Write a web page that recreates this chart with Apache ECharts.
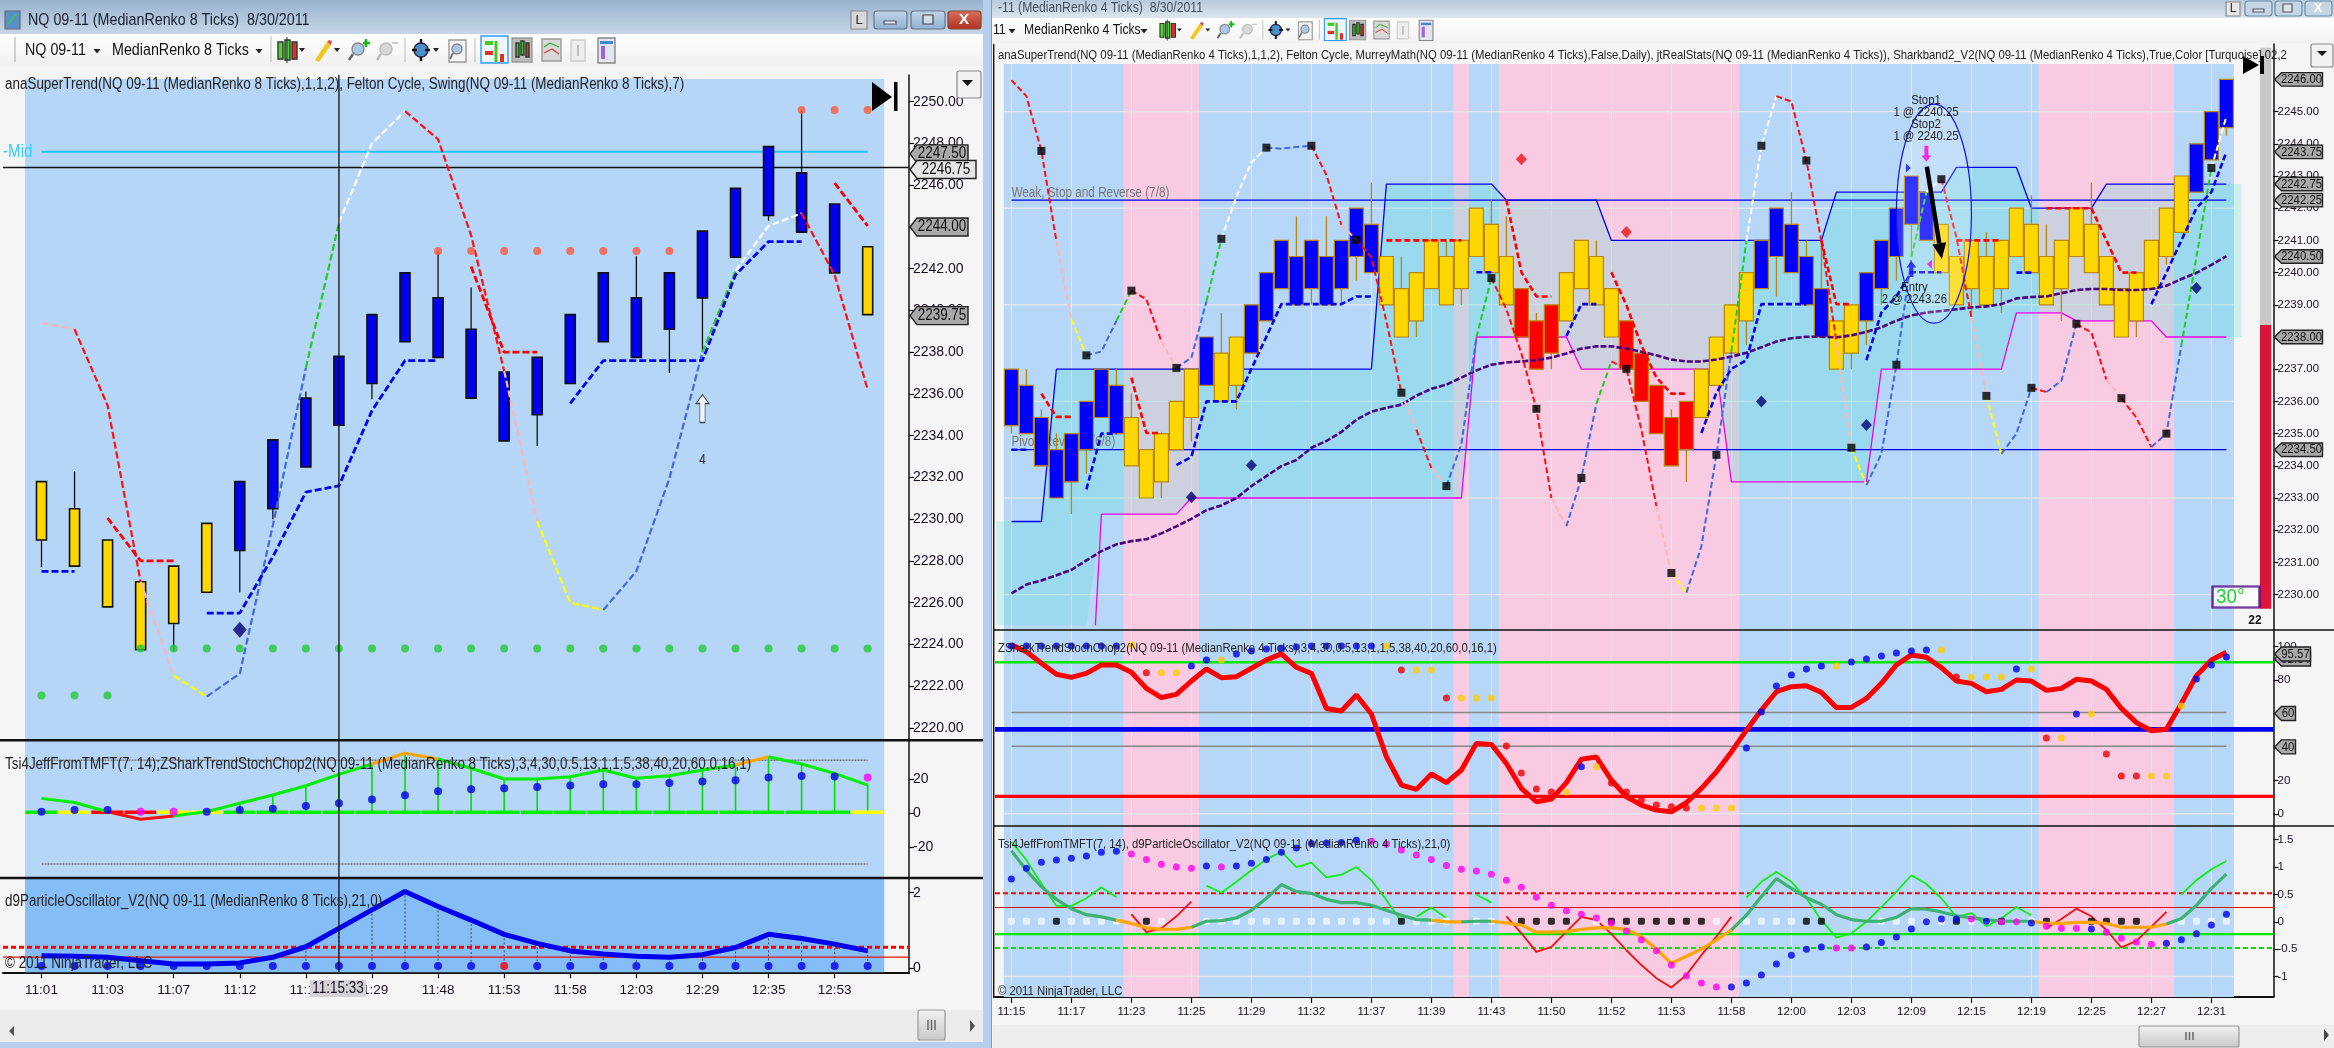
<!DOCTYPE html>
<html><head><meta charset="utf-8">
<style>html,body{margin:0;padding:0;background:#f5f5f5}#c{width:2334px;height:1048px}</style>
<script src="https://cdn.jsdelivr.net/npm/echarts@6/dist/echarts.min.js"></script>
</head><body><div id="c"></div>
<script>
// ---------- LEFT CHART DATA (MedianRenko 8 Ticks) ----------
const leftTimeLabels=['11:01','11:03','11:07','11:12','11:15','11:29','11:48','11:53','11:58','12:03','12:29','12:35','12:53'];
const leftBodyTop=[2231.8,2230.5,2229.0,2227.0,2227.75,2229.8,2231.8,2233.8,2235.8,2237.8,2239.8,2241.8,2240.6,2239.1,2237.05,2237.75,2239.8,2241.8,2240.6,2241.8,2243.8,2245.85,2247.85,2246.6,2245.1,2243.05];
const leftBodyBottom=[2229.0,2227.75,2225.8,2223.75,2225.0,2226.5,2228.5,2230.5,2232.5,2234.5,2236.5,2238.5,2237.75,2235.8,2233.75,2235.0,2236.5,2238.5,2237.75,2239.1,2240.6,2242.55,2244.55,2243.75,2241.8,2239.8];
const leftUpperWicks=[[1,2232.3],[8,2236.1],[12,2242.85],[13,2241.1],[18,2242.6],[23,2249.6]];
const leftLowerWicks=[[0,2227.7],[4,2223.7],[6,2226.5],[7,2230.0],[10,2235.75],[15,2233.5],[19,2237.0],[20,2238.0],[22,2244.3]];
const leftCandleKinds='yyyyyybbbbbbbbbbbbbbbbbbby';
const leftCycle=[2239.4,2239.1,2235.45,2227.0,2222.5,2221.5,2222.6,2229.7,2237.25,2244.2,2248.0,2249.55,2248.2,2243.6,2237.1,2229.9,2226.0,2225.65,2227.5,2231.95,2238.0,2241.9,2244.05,2244.65,2241.7,2236.2];
const leftCycleRuns=[[1,'pink'],[3,'red'],[4,'pink'],[5,'yellow'],[8,'blue'],[9,'green'],[11,'white'],[14,'red'],[15,'pink'],[17,'yellow'],[20,'blue'],[21,'green'],[23,'white'],[25,'red']];
const leftTrailBlue=[[0,[2227.5,2227.5]],[5,[2225.5,2225.5,2228.2,2231.3,2231.6,2235.2,2237.6,2237.6]],[16,[2235.55,2237.6,2237.6,2237.6,2237.6,2241.7,2243.3,2243.3]]];
const leftTrailRed=[[2,[2230.05,2228.0,2228.0]],[13,[2242.1,2238.0,2238.0]],[24,[2246.1,2244.05]]];
const leftSwingHighIdx=[12,13,14,15,16,17,18,19,23,24,25];
const leftSwingHigh=[2242.85,2242.85,2242.85,2242.85,2242.85,2242.85,2242.85,2242.85,2249.6,2249.6,2249.6];
const leftSwingLow=[2221.55,2221.55,2221.55,2223.8,2223.8,2223.8,2223.8,2223.8,2223.8,2223.8,2223.8,2223.8,2223.8,2223.8,2223.8,2223.8,2223.8,2223.8,2223.8,2223.8,2223.8,2223.8,2223.8,2223.8,2223.8,2223.8];
const leftMid=2247.6, leftLast=2246.85;
const leftTags=[[2247.5,'2247.50'],[2244,'2244.00'],[2239.75,'2239.75']];
const leftTsi=[8.8,6.4,0.96,-3.5,-1.6,1,5.9,10.8,16.2,22.9,29,35.3,31.9,26.5,20.2,20.2,21.5,25.5,20.6,22.1,25.5,28.4,33.3,29,23.5,16.6];
const leftTsiRuns=[[2,'lime'],[4,'red'],[10,'lime'],[12,'orange'],[21,'lime'],[22,'orange'],[25,'lime']];
const leftShark=[1,2,2,1,1,1,2,2.7,4.3,5.9,8.2,10.6,13,14.2,14.8,15.5,16.3,17.1,17.1,17.9,18.7,19.5,21.1,22,21.7,21.1];
const leftSharkKinds='bbbmmbbbbbbbbbbbbbbbbbbbbm';
const leftZeroKinds='gyrryygggggggggggggggggggy';
const leftParticle=[0.32,0.31,0.28,0.19,0.1,0.1,0.13,0.28,0.56,1.05,1.54,2.03,1.63,1.27,0.89,0.65,0.45,0.37,0.31,0.28,0.35,0.54,0.89,0.78,0.63,0.45];
const leftParticleDots='bbbbbbbbbbbbbbrbbbbbbbbbbb';
// ---------- RIGHT CHART DATA (MedianRenko 4 Ticks) ----------
const rightTimeLabels=['11:15','11:17','11:23','11:25','11:29','11:32','11:37','11:39','11:43','11:50','11:52','11:53','11:58','12:00','12:03','12:09','12:15','12:19','12:25','12:27','12:31'];
const rightBodyTop=[2237,2236.5,2235.5,2234.5,2235,2236,2237,2236.5,2235.5,2234.5,2235,2236,2237,2238,2237.5,2238,2239,2240,2241,2240.5,2241,2240.5,2241,2242,2241.5,2240.5,2239.5,2240,2241,2240.5,2241,2242,2241.5,2240.5,2239.5,2238.5,2239,2240,2241,2240.5,2239.5,2238.5,2237.5,2236.5,2235.5,2236,2237,2238,2239,2240,2241,2242,2241.5,2240.5,2239.5,2238.5,2239,2240,2241,2242,2243,2242.5,2241.5,2240.5,2241,2240.5,2241,2242,2241.5,2240.5,2241,2242,2241.5,2240.5,2239.5,2240,2241,2242,2243,2244,2245,2246];
const rightBodyBottom=[2235.25,2235,2234,2233,2233.5,2234.5,2235.5,2235,2234,2233,2233.5,2234.5,2235.5,2236.5,2236,2236.5,2237.5,2238.5,2239.5,2239,2239.5,2239,2239.5,2240.5,2240,2239,2238,2238.5,2239.5,2239,2239.5,2240.5,2240,2239,2238,2237,2237.5,2238.5,2239.5,2239,2238,2237,2236,2235,2234,2234.5,2235.5,2236.5,2237.5,2238.5,2239.5,2240.5,2240,2239,2238,2237,2237.5,2238.5,2239.5,2240.5,2241.5,2241,2240,2239,2239.5,2239,2239.5,2240.5,2240,2239,2239.5,2240.5,2240,2239,2238,2238.5,2239.5,2240.5,2241.25,2242.5,2243.5,2244.5];
const rightUpperWicks=[[1,2237],[2,2235.75],[3,2235],[7,2237],[8,2236.25],[14,2238.75],[19,2241.75],[21,2241.75],[24,2242.8],[26,2240.5],[29,2241],[32,2242.25],[33,2241.75],[35,2238.75],[39,2241],[44,2235.75],[52,2242.5],[53,2241],[54,2241],[65,2241.25],[68,2242.4],[69,2241.5],[72,2242.8]];
const rightLowerWicks=[[0,2235],[4,2232.5],[5,2233.75],[10,2233],[12,2234.75],[15,2235.75],[20,2239],[22,2239],[23,2239.75],[27,2238],[30,2239],[36,2237],[45,2233.5],[49,2237.75],[51,2239.25],[56,2237],[57,2237.75],[58,2239],[59,2239.75],[60,2240.5],[64,2238.75],[66,2238.75],[70,2238.5],[75,2238],[77,2240.25],[81,2244.25]];
const rightCandleKinds='bbbbbbbbyyyyybyybbbbbbbbbyyyyyyyyyrrryyyyrrrrryyyybbbbbyybbbbbyyyyyyyyyyyyyyyyybbb';
const rightCycle=[2245.98,2245.48,2243.78,2240.98,2238.55,2237.43,2237.55,2238.5,2239.44,2239.17,2237.86,2237.04,2237.36,2239.1,2241.05,2242.36,2243.42,2243.88,2243.85,2243.9,2243.94,2243.04,2241.48,2241.02,2240.48,2238.49,2236.27,2235.12,2233.93,2233.37,2234.68,2237.99,2239.83,2238.86,2237.49,2235.77,2233.0,2232.12,2233.62,2235.93,2237.24,2237.01,2235.12,2232.75,2230.67,2230.06,2231.5,2234.34,2237.55,2240.98,2243.94,2245.48,2245.31,2243.48,2240.98,2237.86,2234.56,2233.4,2234.37,2237.14,2240.48,2242.5,2242.9,2241.1,2238.61,2236.17,2234.37,2235.0,2236.42,2236.29,2236.64,2238.41,2238.14,2236.68,2236.1,2235.49,2234.58,2235.0,2237.74,2240.48,2243.25,2244.85];
const rightCycleRuns=[[3,'red'],[4,'pink'],[5,'yellow'],[7,'blue'],[8,'green'],[10,'red'],[11,'pink'],[13,'blue'],[14,'green'],[17,'white'],[20,'blue'],[22,'red'],[23,'pink'],[26,'red'],[27,'pink'],[28,'red'],[29,'pink'],[31,'blue'],[32,'green'],[36,'red'],[37,'pink'],[39,'blue'],[40,'green'],[43,'red'],[44,'pink'],[45,'yellow'],[48,'blue'],[49,'green'],[51,'white'],[55,'red'],[56,'pink'],[57,'yellow'],[60,'blue'],[61,'green'],[62,'white'],[64,'red'],[65,'pink'],[66,'yellow'],[68,'blue'],[69,'red'],[71,'blue'],[73,'red'],[74,'pink'],[76,'red'],[78,'blue'],[80,'green'],[81,'white']];
const rightSquareIdx=[2,5,8,11,14,17,20,23,26,29,32,35,38,41,44,47,50,53,56,59,62,65,68,71,74,77,80];
const rightTrailBlue=[[0,[2234.5,2234.5]],[5,[2233.27,2235,2235]],[11,[2234.02,2234.28,2236,2236,2236,2237.01,2238.01,2239.02,2239.02,2239.02,2239.02,2239.02,2239.26,2239.26]],[31,[2240.01,2240.01]],[37,[2238.03,2239.02,2239.02]],[46,[2235.02,2236.27,2237.01,2237.28,2239.02,2239.02,2239.02,2239.02]],[57,[2237.28,2238.76,2239.26,2240.01,2240.01,2240.01]],[67,[2240,2240]],[76,[2239.02,2240,2241,2242,2242.5,2243.75]]];
const rightTrailRed=[[2,[2236.24,2235.52,2235.52]],[8,[2236.74,2235.02,2235.02]],[25,[2241,2241,2241,2241,2241,2241]],[33,[2242.27,2240.01,2239.26,2239.26]],[40,[2240.01,2238.99,2237.74,2236.74,2236.24,2236.24]],[54,[2241,2239.02,2239.02]],[63,[2241,2241,2241,2241]],[69,[2242,2242,2242,2242,2241,2240,2240]]];
const rightAverage=[2230.04,2230.31,2230.44,2230.6,2230.77,2231.06,2231.35,2231.56,2231.66,2231.72,2231.9,2232.12,2232.35,2232.62,2232.77,2233,2233.37,2233.68,2233.99,2234.18,2234.56,2234.77,2235.05,2235.43,2235.68,2235.8,2235.9,2236.18,2236.39,2236.52,2236.74,2236.96,2237.14,2237.21,2237.24,2237.28,2237.36,2237.49,2237.64,2237.71,2237.71,2237.64,2237.54,2237.43,2237.3,2237.24,2237.24,2237.3,2237.39,2237.51,2237.68,2237.86,2237.96,2238.01,2238.01,2237.99,2238.05,2238.16,2238.3,2238.51,2238.67,2238.76,2238.81,2238.86,2238.92,2238.95,2239.02,2239.2,2239.24,2239.26,2239.36,2239.46,2239.49,2239.49,2239.46,2239.46,2239.49,2239.59,2239.8,2239.99,2240.24,2240.51];
const rightSharkUpper=[2232.27,2232.27,2232.27,2237,2237,2237,2237,2237,2237,2237,2237,2237,2237,2237,2237,2237,2237,2237,2237,2237,2237,2237,2237,2237,2237,2242.75,2242.75,2242.75,2242.75,2242.75,2242.75,2242.75,2242.75,2242.25,2242.25,2242.25,2242.25,2242.25,2242.25,2242.25,2241,2241,2241,2241,2241,2241,2241,2241,2241,2241,2241,2241,2241,2241,2241,2242.5,2242.5,2242.5,2242.5,2242.5,2242.5,2242.5,2242.5,2243.27,2243.27,2243.27,2243.27,2243.27,2242,2242,2242,2242,2242,2242.75,2242.75,2242.75,2242.75,2242.75,2242.75,2242.75,2242.75,2242.75];
const rightSharkLower=[null,null,null,null,null,null,2232.5,2232.5,2232.5,2232.5,2232.5,2232.5,2233,2233,2233,2233,2233,2233,2233,2233,2233,2233,2233,2233,2233,2233,2233,2233,2233,2233,2233,2238,2238,2238,2238,2238,2238,2238,2237,2237,2237,2237,2237,2237,2237,2237,2237,2237,2233.5,2233.5,2233.5,2233.5,2233.5,2233.5,2233.5,2233.5,2233.5,2233.5,2237,2237,2237,2237,2237,2237,2237,2237,2237,2238.75,2238.75,2238.75,2238.75,2238.5,2238.5,2238.5,2238.5,2238.5,2238.5,2238,2238,2238,2238,2238];
const rightMurrey=[2242.25,2234.5];
const rightNavyDiamonds=[[12,2233.02],[16,2234.02],[50,2236],[57,2235.27],[79,2239.52]];
const rightRedDiamonds=[[34,2243.52],[41,2241.26]];
const rightTags=[[2246,'2246.00'],[2243.75,'2243.75'],[2242.75,'2242.75'],[2242.25,'2242.25'],[2240.5,'2240.50'],[2238,'2238.00'],[2234.5,'2234.50']];
const rightStoch=[101,96.9,90,83.4,81.6,84,89,89,84.6,75,69.5,71.4,79.4,86.6,81.4,82,87,92,95.6,87.6,84,63,61.5,71,59.7,34.1,17.2,14.6,23.8,18.6,26.2,42.1,41.5,30.1,15.2,7.2,8.8,18.6,32.7,33.9,20.2,10.2,5.2,2.2,1.2,6.6,15.2,25.1,37,50,62,73,76,76.6,72.6,63.6,63.6,69,78,89,95,93.6,87.4,79.4,78,73,74.4,80,79.4,73.8,75,80.4,79.4,74.4,63,54.5,49.7,50.5,66,82.6,92,96.6];
const rightStochDots=[100.4,100.4,100.4,100.4,100.4,100.4,100.4,100.4,101,84.4,84.4,84.4,88.4,92,92,95.6,97.4,98.6,99,99.8,100.4,100.4,100.4,100.4,100.4,100.4,86,86,86,69.3,69.3,69.3,69.3,40.5,24.4,14.8,13,13,28.2,28.2,18.4,13,8.2,5.2,4.2,3.4,3.4,3.4,3.4,39.3,60.9,76.4,83,86.6,88.4,88.4,90.8,92.6,94.4,96.2,97.4,98,98,81.8,81.8,81.8,81.8,86.6,86.6,45.3,45.3,59.7,59.7,35.8,22.6,22.6,22.6,22.6,64.5,80.6,89,93.8];
const rightStochKinds='bbbbbbbbyryybbybbbbbbbbbbyryyryyyrrrrybyrrrrrryyybbbbbbybbbbbbyryyybyrybyrrryyybbbb';
const rightOscThick=[1.3,0.94,0.64,0.41,0.24,0.13,0.09,0.03,-0.03,-0.11,-0.14,-0.14,-0.1,0.01,0.02,0.07,0.21,0.43,0.68,0.55,0.52,0.41,0.35,0.35,0.3,0.21,0.12,0.04,0.03,0,0,0.01,0.01,-0.02,-0.06,-0.19,-0.19,-0.18,-0.14,-0.11,-0.11,-0.14,-0.27,-0.5,-0.76,-0.63,-0.5,-0.33,-0.15,0.12,0.46,0.79,0.61,0.44,0.32,0.13,0.04,0.01,0.01,0.08,0.24,0.23,0.18,0.11,0.07,0.04,0.01,0.01,0.01,-0.03,-0.03,-0.01,-0.01,-0.03,-0.1,-0.1,-0.1,-0.04,0.06,0.3,0.61,0.87];
const rightOscThickRuns=[[7,'sea'],[12,'orange'],[28,'sea'],[30,'orange'],[32,'sea'],[48,'orange'],[68,'sea'],[77,'orange'],[81,'sea']];
const rightOscThinGreen=[[0,[1.46,1.13,0.7,0.29,0.29,0.43,0.63,0.45]],[13,[0.66,0.53,0.73,0.94,1.14,1.28,1.0,1.08,0.81,0.86,1.0,0.76,0.4,0]],[27,[0.09,0.26,0.07]],[31,[0.5,0.35]],[49,[0.44,0.73,0.91,0.73,0.43,0.03,-0.29,-0.21,0,0.27,0.55,0.85,0.69,0.43,0.09,0.16,-0.08,0.06,0.27,0.12]],[78,[0.5,0.76,0.96,1.11]]];
const rightOscThinRed=[[8,[0.14,-0.19,-0.12,0.1,0.37]],[33,[0.1,-0.21,-0.55,-0.46,-0.18,0.09,0.03,-0.22,-0.52,-0.79,-1.03,-1.2,-0.97,-0.61,-0.27,0.09]],[69,[-0.12,0.05,0.24,0.1,-0.15,-0.47,-0.35,-0.09,0.18]]];
const rightOscDots=[0.78,0.98,1.09,1.13,1.16,1.2,1.27,1.29,1.24,1.14,1.05,1.0,0.98,1.02,1.0,1.02,1.07,1.14,1.27,1.35,1.43,1.44,1.45,1.49,1.47,1.42,1.31,1.22,1.14,1.03,0.96,0.93,0.87,0.76,0.63,0.45,0.3,0.2,0.14,0.07,-0.02,-0.17,-0.33,-0.53,-0.79,-0.99,-1.12,-1.19,-1.19,-1.12,-0.97,-0.77,-0.61,-0.5,-0.46,-0.48,-0.48,-0.46,-0.38,-0.28,-0.13,0,0.05,0.05,0.05,0.01,0,0,-0.02,-0.08,-0.12,-0.12,-0.13,-0.19,-0.3,-0.37,-0.41,-0.39,-0.33,-0.22,-0.06,0.14];
const rightOscDotKinds='bbbbbbbbmmmmmbmbbbbbbbbbmmmmmmmmmmmmmmmmmmmmmmmmbbbbbbbmmbbbbbbbmbmmbmmmbmmmmbbbbb'.slice(0,82);
const rightZeroKinds='wwwkwwww.kw..wwwwwwwwwwwwwkwww.ww.kkkk.wkkkkkkkw.wwwwkk...wwwwwkwwkwwk..kkkk..wwww'.slice(0,82);
const rightZeroLevel=0.01;
const stochTags=[[92.6,'92.64'],[95.57,'95.57'],[60,'60'],[40,'40']];
const FONT='"Liberation Sans",sans-serif';
const NARROW=0.84;
// ---------- HELPERS ----------
const L0=-1.165,L1=26.25,R0=-1.093,R1=84.14;
const COL={red:'#ff1010',pink:'#ffb6b6',yellow:'#ffff00',blue:'#4169e1',green:'#22cc22',white:'#ffffff',lime:'#00ee00',orange:'#ffa500',sea:'#3cb371'};
const idx=(n)=>Array.from({length:n},(_,i)=>i);
const series=[];
function line(g,pts,color,width,type,z){series.push({type:'line',xAxisIndex:g,yAxisIndex:g,data:pts,showSymbol:false,symbol:'none',silent:true,animation:false,z:z||5,connectNulls:false,lineStyle:{color,width,type:type||'solid'}});}
function hl(g,v,a,b,color,width,type,z){line(g,[[a,v],[b,v]],color,width,type,z);}
function vl(g,x,a,b,color,width,type,z){line(g,[[x,a],[x,b]],color,width,type,z);}
function runs(g,vals,list,width,dash,z){let s=0;for(const [e,c] of list){line(g,vals.slice(s,e+1).map((v,i)=>[s+i,v]),COL[c],width,dash,z);s=e;}}
function gapped(g,segs,color,width,dash,z){const p=[];for(const [st,vs] of segs){vs.forEach((v,i)=>p.push([st+i,v]));p.push([st+vs.length,'-']);}line(g,p,color,width,dash,z);}
function scatter(g,items,symbol,size,z,extra){series.push(Object.assign({type:'scatter',xAxisIndex:g,yAxisIndex:g,data:items,symbol,symbolSize:size,silent:true,animation:false,z:z||8},extra||{}));}
function dots(g,vals,kinds,map,symbol,size,z){const items=[];vals.forEach((v,i)=>{const k=kinds[i];if(v==null||!map[k])return;items.push({value:[i,v],itemStyle:{color:map[k]}});});scatter(g,items,symbol,size,z);}
function custom(g,data,renderItem,z,clip){series.push({type:'custom',xAxisIndex:g,yAxisIndex:g,data,renderItem,silent:true,animation:false,z:z||2,clip:!!clip,encode:{x:0,y:1}});}
function note(g,x,v,text,color,size,z,align){custom(g,[[x,v]],(p,api)=>{const c=api.coord([x,v]);return {type:'text',x:c[0],y:c[1],scaleX:NARROW,style:{text,fill:color,font:size+'px '+FONT,align:align||'left',verticalAlign:'middle',textAlign:align||'left',textVerticalAlign:'middle'}};},z||3);}
function bands(g,list,z){custom(g,list.map(b=>[b[0],b[2]]),(p,api)=>{const b=list[p.dataIndex];const a=api.coord([b[0],b[3]]),c=api.coord([b[1],b[2]]);return {type:'rect',shape:{x:a[0],y:a[1],width:c[0]-a[0],height:c[1]-a[1]},style:{fill:b[4]}};},z||1);}
function candles(g,top,bot,uw,lw,kinds,colors,border,w,bw,z){const hi=top.slice(),lo=bot.slice();uw.forEach(([i,v])=>hi[i]=v);lw.forEach(([i,v])=>lo[i]=v);
 custom(g,top.map((t,i)=>[i,t]),(p,api)=>{const i=p.dataIndex;const a=api.coord([i,top[i]]),b=api.coord([i,bot[i]]),h=api.coord([i,hi[i]]),l=api.coord([i,lo[i]]);
  return {type:'group',children:[{type:'line',shape:{x1:h[0],y1:h[1],x2:l[0],y2:l[1]},style:{stroke:border,lineWidth:1.3}},{type:'rect',shape:{x:a[0]-w/2,y:a[1],width:w,height:b[1]-a[1]},style:{fill:colors[kinds[i]],stroke:border,lineWidth:bw}}]};},z||6);}
function stems(g,xs,vals,color,width,dash,z){custom(g,xs.map((x,i)=>[x,vals[i]]),(p,api)=>{const a=api.coord([xs[p.dataIndex],vals[p.dataIndex]]),b=api.coord([xs[p.dataIndex],0]);return {type:'line',shape:{x1:a[0],y1:a[1],x2:b[0],y2:b[1]},style:{stroke:color,lineWidth:width,lineDash:dash||null}};},z||4);}
function tags(g,list,xEdge,w,h,size,fill,z){custom(g,list.map(t=>[xEdge,t[0]]),(p,api)=>{const t=list[p.dataIndex];const c=api.coord([xEdge,t[0]]);const x=c[0]+1,y=c[1];const ww=w;
  return {type:'group',children:[{type:'polygon',shape:{points:[[x,y],[x+7,y-h/2],[x+ww,y-h/2],[x+ww,y+h/2],[x+7,y+h/2]]},style:{fill:fill,stroke:'#222',lineWidth:1.4}},{type:'text',x:x+6+(ww-6)/2,y:y,scaleX:NARROW,style:{text:t[1],fill:'#111',font:size+'px '+FONT,align:'center',verticalAlign:'middle',textAlign:'center',textVerticalAlign:'middle'}}]};},z||20);}
// ---------- LEFT MAIN ----------
const LM=0,LO=1,LP=2,RM=3,RO=4,RP=5;
const xs26=idx(26);
bands(LM,[[-0.5,25.5,2219.42,2251.09,'#b5d6f7']]);
bands(LO,[[-0.5,25.5,-38,43.1,'#b5d6f7']]);
bands(LP,[[-0.5,25.5,-0.12,2.39,'#85bdf7']]);
hl(LM,leftMid,0,25,'#22c4f5',2,'solid',3);
hl(LM,leftLast,L0,L1,'#111',1.5,'solid',4);
vl(LM,9,2219.42,2251.28,'#111',1.3,'solid',9);vl(LO,9,-38,43.1,'#111',1.3,'solid',9);vl(LP,9,-0.12,2.39,'#111',1.3,'solid',9);
candles(LM,leftBodyTop,leftBodyBottom,leftUpperWicks,leftLowerWicks,leftCandleKinds,{y:'#ffd700',b:'#0000f0'},'#111',10,1.6,6);
runs(LM,leftCycle,leftCycleRuns,2.2,[7,3],7);
gapped(LM,leftTrailBlue,'#0000ee',2.8,[7,3],7);
gapped(LM,leftTrailRed,'#ff0000',2.8,[7,3],7);
dots(LM,leftSwingLow,'g'.repeat(26),{g:'#22cc33'},'circle',8,8);
scatter(LM,leftSwingHighIdx.map((x,i)=>({value:[x,leftSwingHigh[i]],itemStyle:{color:'#ff5a3c'}})),'circle',8,8);
scatter(LM,[{value:[6,2224.7],itemStyle:{color:'#000070'}}],'diamond',[14,16],8);
scatter(LM,[{value:[20,2235.3],itemStyle:{color:'#fff',borderColor:'#222',borderWidth:1}}],'path://M5 0L10 9H7V28H3V9H0Z',[13,28],8);
note(LM,20,2232.85,'4','#222',14,8,'center');
note(LM,L0,2247.6,'-Mid','#33ccff',18,8);
tags(LM,leftTags,L1,58,18,16,'#a9a9a9');
tags(LM,[[2246.75,'2246.75']],L1,66,18,16,'#e6e6e6',21);
// ---------- LEFT OSCILLATORS ----------
hl(LO,31.2,0,25,'#777',1.4,[2,1],3);hl(LO,-29.8,0,25,'#777',1.4,[2,1],3);
stems(LO,xs26.slice(6),leftTsi.slice(6),'#00e000',1.6,null,4);
custom(LO,xs26.map(i=>[i,0.6]),(p,api)=>{const i=p.dataIndex;const a=api.coord([i-0.49,0.6]),b=api.coord([i+0.47,0.6]);return {type:'line',shape:{x1:a[0],y1:a[1],x2:b[0],y2:b[1]},style:{stroke:{g:'#00ee00',y:'#ffff00',r:'#ff0000'}[leftZeroKinds[i]],lineWidth:3.6}};},4);
runs(LO,leftTsi,leftTsiRuns,3,'solid',6);
dots(LO,leftShark,leftSharkKinds,{b:'#0000ee',m:'#ff00ff'},'circle',8,8);
stems(LP,xs26.slice(8),leftParticle.slice(8),'#444',1,[2,2],3);
hl(LP,0.55,L0,L1,'#ff0000',3,[5,3],5);hl(LP,0.285,L0,L1,'#ee1111',1.4,'solid',5);
line(LP,leftParticle.map((v,i)=>[i,v]),'#0000ee',5,'solid',6);
dots(LP,leftParticle.map(()=>0.05),leftParticleDots,{b:'#0000ee',r:'#ff0000'},'circle',8,8);
// ---------- RIGHT MAIN ----------
const rightBands=[[-0.5,7.5,'#b6d7f8'],[7.5,12.5,'#f8cbe3'],[12.5,29.5,'#b6d7f8'],[29.5,30.5,'#f8cbe3'],[30.5,32.5,'#b6d7f8'],[32.5,48.5,'#f8cbe3'],[48.5,68.5,'#b6d7f8'],[68.5,77.5,'#f8cbe3'],[77.5,81.5,'#b6d7f8']];
bands(RM,rightBands.map(b=>[b[0],b[1],2228.9,2246.48,b[2]]));
bands(RO,rightBands.map(b=>[b[0],b[1],-7.3,109.9,b[2]]));
bands(RP,rightBands.map(b=>[b[0],b[1],-1.374,1.75,b[2]]));
for(let v of [2245,2242,2239,2236,2233,2230])hl(RM,v,-0.5,81.5,'rgba(232,232,232,.9)',1.4,'solid',1.5);
hl(RO,0,-0.5,81.5,'rgba(232,232,232,.9)',1.4,'solid',1.5);
hl(RP,-1,-0.5,81.5,'rgba(232,232,232,.9)',1.4,'solid',1.5);
for(let i=0;i<=80;i+=4){vl(RM,i,2228.9,2246.48,'rgba(232,232,232,.85)',1.2,'solid',1.5);vl(RO,i,-7.3,109.9,'rgba(232,232,232,.85)',1.2,'solid',1.5);vl(RP,i,-1.374,1.75,'rgba(232,232,232,.85)',1.2,'solid',1.5);}
// shark band fill
const upPts=[[-1,rightSharkUpper[0]]].concat(rightSharkUpper.map((v,i)=>[i,v]),[[82,rightSharkUpper[81]]]);
const lowPts=[[-1,2229.05],[5,2229.05]].concat(rightSharkLower.map((v,i)=>v==null?null:[i,v]).filter(Boolean),[[82,rightSharkLower[81]]]);
custom(RM,[[0,2235]],(p,api)=>({type:'polygon',shape:{points:upPts.concat(lowPts.slice().reverse()).map(q=>api.coord(q))},style:{fill:'rgba(64,224,208,.23)'}}),2);
line(RM,rightSharkUpper.map((v,i)=>[i,v]),'#0000ee',1.3,'solid',3);
line(RM,[[5.6,2229.05]].concat(rightSharkLower.map((v,i)=>v==null?null:[i,v]).filter(Boolean)),'#ee00ee',1.3,'solid',3);
for(const v of rightMurrey)hl(RM,v,0,81,'#0000ee',1.2,'solid',3);
note(RM,0,2242.48,'Weak, Stop and Reverse (7/8)','#777',14,3);
note(RM,0,2234.74,'Pivot, Reverse (6/8)','#777',14,3);
candles(RM,rightBodyTop,rightBodyBottom,rightUpperWicks,rightLowerWicks,rightCandleKinds,{y:'#ffd700',b:'#0000ff',r:'#ff0000'},'#b8860b',14,1.2,6);
line(RM,rightAverage.map((v,i)=>[i,v]),'#4b0082',2.6,[6,2],7);
runs(RM,rightCycle,rightCycleRuns,2,[6,3],7);
gapped(RM,rightTrailBlue,'#0000ee',2.6,[6,3],7);
gapped(RM,rightTrailRed,'#ff0000',2.6,[6,3],7);
scatter(RM,rightSquareIdx.map(i=>({value:[i,rightCycle[i]],itemStyle:{color:'#000'}})),'rect',8,9);
scatter(RM,rightNavyDiamonds.map(p=>({value:p,itemStyle:{color:'#000070'}})),'diamond',[11,12],9);
scatter(RM,rightRedDiamonds.map(p=>({value:p,itemStyle:{color:'#ee1111'}})),'diamond',[11,12],9);
// trade ellipse, arrow, order markers
custom(RM,[[61.5,2241.83]],(p,api)=>{const c=api.coord([61.5,2241.83]),a=api.coord([64,2245.23]);return {type:'ellipse',shape:{cx:c[0],cy:c[1],rx:a[0]-c[0],ry:c[1]-a[1]},style:{fill:'rgba(255,255,255,.2)',stroke:'#1111dd',lineWidth:1.2}};},9);
custom(RM,[[61.03,2243.29]],(p,api)=>{const a=api.coord([61.03,2243.29]),b=api.coord([62.03,2240.42]);const dx=b[0]-a[0],dy=b[1]-a[1],n=Math.hypot(dx,dy),ux=dx/n,uy=dy/n;const bx=b[0]-ux*16,by=b[1]-uy*16;return {type:'group',children:[{type:'line',shape:{x1:a[0],y1:a[1],x2:bx,y2:by},style:{stroke:'#000',lineWidth:4.5}},{type:'polygon',shape:{points:[b,[bx-uy*7,by+ux*7],[bx+uy*7,by-ux*7]]},style:{fill:'#000'}}]};},10);
scatter(RM,[{value:[61,2243.69],itemStyle:{color:'#ff00dd'}}],'path://M3 0H7V9H10L5 15L0 9H3Z',[10,16],10);
scatter(RM,[{value:[60,2240.11],itemStyle:{color:'#1111ee'}}],'path://M5 0L10 6H7V15H3V6H0Z',[10,16],10);
scatter(RM,[{value:[59.8,2243.25],itemStyle:{color:'#1111ee'}}],'path://M0 0L10 7L0 14Z',[5,9],10);
scatter(RM,[{value:[61.2,2240.26],itemStyle:{color:'#ff00dd'}}],'path://M10 0L0 7L10 14Z',[5,9],10);
note(RM,60.97,2245.35,'Stop1','#222',13.5,10,'center');
note(RM,60.97,2244.98,'1 @ 2240.25','#222',13.5,10,'center');
note(RM,60.97,2244.6,'Stop2','#222',13.5,10,'center');
note(RM,60.97,2244.23,'1 @ 2240.25','#222',13.5,10,'center');
note(RM,60.2,2239.55,'Entry','#222',13.5,10,'center');
note(RM,60.2,2239.17,'2 @ 2243.26','#222',13.5,10,'center');
custom(RM,[[83.24,2238]],(p,api)=>{const a=api.coord([83.24,2246.98]),m=api.coord([83.99,2238.37]),b=api.coord([83.99,2229.56]);return {type:'group',children:[{type:'rect',shape:{x:a[0],y:a[1],width:m[0]-a[0],height:m[1]-a[1]},style:{fill:'#c8c8c8'}},{type:'rect',shape:{x:a[0],y:m[1],width:m[0]-a[0],height:b[1]-m[1]},style:{fill:'#dc143c'}}]};},4);
tags(RM,rightTags,R1,48,13.5,13.5,'#a9a9a9');
// ---------- RIGHT OSCILLATORS ----------
hl(RO,60.6,0,81,'#888',1.4,'solid',3);hl(RO,40.4,0,81,'#888',1.4,'solid',3);
hl(RO,90.6,R0,R1,'#00e800',2.4,'solid',4);hl(RO,50.5,R0,R1,'#0000ee',4.8,'solid',4);hl(RO,10.4,R0,R1,'#ff0000',3.3,'solid',4);
line(RO,rightStoch.map((v,i)=>[i,v]),'#ff0000',5,'solid',6);
dots(RO,rightStochDots,rightStochKinds,{b:'#0000ee',r:'#ee0000',y:'#ffcc00'},'circle',7,8);
tags(RO,stochTags.slice(0,2),R1,36,14,13.5,'#a9a9a9');
tags(RO,stochTags.slice(2),R1,21,14,13.5,'#a9a9a9');
hl(RP,0.52,R0,R1,'#ff0000',2,[5,3],4);hl(RP,0.26,R0,R1,'#dd1111',1.1,'solid',4);hl(RP,-0.224,R0,R1,'#00e800',2.2,'solid',4);hl(RP,-0.48,R0,R1,'#00e800',2,[5,3],4);
gapped(RP,rightOscThinGreen,'#11ee11',1.8,'solid',5);
gapped(RP,rightOscThinRed,'#ee1111',1.8,'solid',5);
dots(RP,rightZeroKinds.split('').map(k=>k=='.'?null:rightZeroLevel),rightZeroKinds,{w:'#f4f8ff',k:'#000'},'roundRect',[7,7],6);
runs(RP,rightOscThick,rightOscThickRuns,3.2,'solid',7);
dots(RP,rightOscDots,rightOscDotKinds,{b:'#0000ee',m:'#ff00ee'},'circle',7,8);
// ---------- AXES ----------
const labelStyle=s=>({color:'#1a1020',fontSize:s,fontFamily:FONT,margin:6,hideOverlap:false});
function yAxis(gi,min,max,vals,fmt,size){return {type:'value',gridIndex:gi,position:'right',min,max,splitLine:{show:false},axisLine:{show:true,onZero:false,lineStyle:{color:'#111',width:1.5}},axisTick:{show:true,customValues:vals,length:5,lineStyle:{color:'#111',width:1.2}},axisLabel:Object.assign(labelStyle(size),{customValues:vals,formatter:fmt,margin:4})};}
function xAxis(gi,min,max,ticks,labels,size,mg){return {type:'value',gridIndex:gi,min,max,splitLine:{show:false},axisLine:{show:!!labels,onZero:false,lineStyle:{color:'#111',width:2}},axisTick:{show:!!labels,customValues:ticks,length:6,lineStyle:{color:'#111',width:1.2}},axisLabel:labels?Object.assign(labelStyle(size),{customValues:ticks,formatter:labels,margin:mg}):{show:false}};}
const lt=idx(13).map(i=>i*2), rt=idx(21).map(i=>i*4);
const f2=v=>v.toFixed(2);
const gridsDef=[{left:3,top:75,width:906,height:665},{left:3,top:740,width:906,height:138},{left:3,top:878,width:906,height:94.3},{left:995,top:44,width:1278.5,height:586},{left:995,top:630,width:1278.5,height:196},{left:995,top:826,width:1278.5,height:171}];
// ---------- CHROME ----------
const G=echarts.graphic.LinearGradient;
const grad=(a,b)=>new G(0,0,0,1,[{offset:0,color:a},{offset:1,color:b}]);
const rect=(x,y,w,h,fill,z,stroke,r)=>({type:'rect',shape:{x,y,width:w,height:h,r:r||0},style:{fill,stroke:stroke||null,lineWidth:stroke?1.2:0},z:z||0,silent:true});
const txt=(x,y,text,size,fill,z,align,weight,sx)=>({type:'text',x,y,scaleX:sx||NARROW,style:{text,fill,font:(weight?weight+' ':'')+size+'px '+FONT,align:align||'left',verticalAlign:'middle',textAlign:align||'left',textVerticalAlign:'middle'},z:z||1,silent:true});
const poly=(pts,fill,z)=>({type:'polygon',shape:{points:pts},style:{fill},z:z||1,silent:true});
const seg=(x1,y1,x2,y2,c,w,z)=>({type:'line',shape:{x1,y1,x2,y2},style:{stroke:c,lineWidth:w},z:z||1,silent:true});
const drop=(x,y,z)=>poly([[x-3.5,y-2],[x+3.5,y-2],[x,y+2.5]],'#222',z||1);
function icons(ox,oy,s){const c=(cx,cy,r,fill,st)=>({type:'circle',shape:{cx,cy,r},style:{fill,stroke:st||'#888',lineWidth:1.4}});const R=(x,y,w,h,fill,st)=>({type:'rect',shape:{x,y,width:w,height:h},style:{fill,stroke:st||null,lineWidth:st?1.4:0}});const P=(pts,fill)=>({type:'polygon',shape:{points:pts},style:{fill}});const S=(a,b,d,e,col,w)=>({type:'line',shape:{x1:a,y1:b,x2:d,y2:e},style:{stroke:col,lineWidth:w||1.5}});
 return {type:'group',x:ox,y:oy,scaleX:s,scaleY:s,z:1,silent:true,children:[
 R(8,-8,5,17,'#44dd22','#333'),R(15,-10,5,20,'#44dd22','#333'),R(22,-8,5,17,'#dd3322','#333'),S(17,-13,17,13,'#333',1),P([[29,-2],[35,-2],[32,2]],'#222'),
 P([[45,10],[57,-8],[61,-5],[49,12]],'#f2c81e'),P([[57,-8],[61,-5],[62,-9],[59,-10]],'#d05050'),P([[64,-2],[70,-2],[67,2]],'#222'),
 c(88,-1,6,'#aac8e8'),S(83,4,79,10,'#666',2.5),S(93,-7,100,-7,'#11bb11',2.5),S(96,-11,96,-3,'#11bb11',2.5),
 c(116,-1,6,'#d8d8d8','#bbb'),S(111,4,107,10,'#bbb',2.5),S(122,-7,128,-7,'#ccc',2),
 S(135,-12,135,12,'#bbb',1),c(151,0,7,'#4a90c8','#224'),S(142,0,147,0,'#111',2.5),S(155,0,160,0,'#111',2.5),S(151,-11,151,-7,'#111',2.5),S(151,7,151,11,'#111',2.5),P([[163,-2],[169,-2],[166,2]],'#222'),
 R(179,-10,17,22,'#f4f4f4','#999'),c(187,-1,5,'#aac8e8'),S(183,3,180,9,'#777',2),S(205,-12,205,12,'#bbb',1),
 R(211,-14,27,27,'#eef6ff','#3399ff'),R(215,-9,8,4,'#44cc22'),R(215,1,8,4,'#dd3322'),S(226,-9,226,12,'#44cc22',3),R(230,4,4,8,'#dd3322'),
 R(242,-12,20,24,'#bbbbbb','#999'),R(246,-7,3,14,'#33cc22','#333'),R(251,-9,3,14,'#33cc22','#333'),R(256,-7,3,14,'#dd3322','#333'),
 R(272,-11,19,22,'#d8d8d8','#999'),S(274,-3,280,-7,'#22bb22',1.2),S(280,-7,289,-3,'#22bb22',1.2),S(274,3,282,-1,'#dd3333',1.2),S(282,-1,289,4,'#dd3333',1.2),
 R(301,-10,14,21,'#eeeeee','#ccc'),S(308,-5,308,6,'#bbb',2),
 R(328,-12,17,25,'#e4e4ee','#888'),R(330,-9,13,3,'#4488cc'),R(331,-4,4,13,'#9966dd')]};}
const chrome=[
 rect(0,0,983,1048,'#f5f5f5',0),rect(983,0,8,1048,'#b4d0ee',0),rect(991,0,1,1048,'#18c8e0',0),rect(992,0,1342,1048,'#f5f5f5',0),
 rect(0,0,983,34,grad('#99b3cf','#c6d6e6'),0),rect(0,34,983,32,grad('#ffffff','#f0f0f0'),0),
 rect(992,0,1342,18,grad('#b8c9da','#dde6ee'),0),rect(992,18,1342,25,grad('#ffffff','#f2f2f2'),0),
 rect(5,11,15,18,'#5a90c8',1,'#667'),seg(7,25,17,14,'#33cc44',1.5,2),
 txt(28,20,'NQ 09-11 (MedianRenko 8 Ticks)  8/30/2011',17,'#1a2030',1),
 rect(851,11,16,18,'#d8d8d8',1,'#888'),txt(859,20,'L',13,'#222',2,'center',null,1),
 rect(874,11,33,18,grad('#c2d6ea','#8fb0d0'),1,'#667788',3),rect(884,21,12,3,'#dfe8f0',2,'#556'),
 rect(911,11,34,18,grad('#c2d6ea','#8fb0d0'),1,'#667788',3),rect(923,15,10,9,'#cfdde8',2,'#445'),
 rect(948,11,33,18,grad('#dd7060','#b03020'),1,'#884433',3),txt(964,20,'X',15,'#ffffff',2,'center','bold',1),
 seg(15,37,15,62,'#aaa',1,1),txt(25,50,'NQ 09-11',17,'#111',1),drop(97,51),txt(112,50,'MedianRenko 8 Ticks',17,'#111',1),drop(259,51),seg(271,36,271,62,'#bbb',1,1),
 icons(270,50,1),
 rect(957,71,24,27,'#f2f2f2',1,'#888',2),poly([[962,80],[973,80],[967.5,86]],'#111',2),
 txt(998,8,'-11 (MedianRenko 4 Ticks)  8/30/2011',14.5,'#445060',1),
 txt(993,30,'11',14.5,'#111',1),drop(1012,31),txt(1024,30,'MedianRenko 4 Ticks',14.5,'#111',1),drop(1144,31),
 icons(1153.5,30,0.81),
 rect(2226,2,14,14,'#e8e8e8',1,'#888'),txt(2233,9,'L',12,'#222',2,'center',null,1),
 rect(2245,1,27,15,'#c4d5e6',1,'#6c8aa4',3),rect(2253,9,11,3,'#dfe8f0',2,'#556'),
 rect(2275,1,27,15,'#c4d5e6',1,'#6c8aa4',3),rect(2283,4,9,8,'#d8e4ee',2,'#556'),
 rect(2305,1,27,15,'#c4d5e6',1,'#6c8aa4',3),txt(2318,8.5,'X',13,'#ffffff',2,'center','bold',1),
 rect(2311,44,22,23,'#f2f2f2',1,'#888',2),poly([[2317,51],[2327,51],[2322,56]],'#111',2),
 // panel separators
 rect(0,739,983,2.6,'#111',30),rect(0,876.7,983,2.6,'#111',30),
 rect(993,629.3,1341,1.4,'#111',30),rect(993,825.3,1341,1.4,'#111',30),
 rect(993,44,1.4,954,'#111',30),
 // go-to-end glyphs
 poly([[872,82],[892,97],[872,111]],'#000',40),rect(894,82,3.5,29,'#000',40),
 poly([[2243,56],[2259,65],[2243,74]],'#000',40),rect(2260,56,4,18,'#000',40),
 // indicator labels
 txt(5,85,'anaSuperTrend(NQ 09-11 (MedianRenko 8 Ticks),1,1,2), Felton Cycle, Swing(NQ 09-11 (MedianRenko 8 Ticks),7)',16,'#222',40),
 txt(5,765,'Tsi4JeffFromTMFT(7, 14);ZSharkTrendStochChop2(NQ 09-11 (MedianRenko 8 Ticks),3,4,30,0.5,13,1,1,5,38,40,20,60,0,16,1)',16,'#222',40),
 txt(5,902,'d9ParticleOscillator_V2(NQ 09-11 (MedianRenko 8 Ticks),21,0)',16,'#222',40),
 txt(5,964,'© 2011 NinjaTrader, LLC',16,'#222',40),
 txt(998,55,'anaSuperTrend(NQ 09-11 (MedianRenko 4 Ticks),1,1,2), Felton Cycle, MurreyMath(NQ 09-11 (MedianRenko 4 Ticks),False,Daily), jtRealStats(NQ 09-11 (MedianRenko 4 Ticks)), Sharkband2_V2(NQ 09-11 (MedianRenko 4 Ticks),True,Color [Turquoise],02,2',13.5,'#222',40),
 txt(998,648,'ZSharkTrendStochChop2(NQ 09-11 (MedianRenko 4 Ticks),3,4,30,0.5,13,1,1,5,38,40,20,60,0,16,1)',13.5,'#222',40),
 txt(998,844,'Tsi4JeffFromTMFT(7, 14), d9ParticleOscillator_V2(NQ 09-11 (MedianRenko 4 Ticks),21,0)',13.5,'#222',40),
 txt(998,991,'© 2011 NinjaTrader, LLC',13.5,'#222',40),
 // crosshair time box
 rect(310,980,56,17,'#d4d4d4',40),txt(338,989,'11:15:33',16,'#1a1020',41,'center'),
 // misc overlays
 rect(2212,586,48,22,'rgba(255,255,255,.75)',40,'#4b0082'),rect(2213,587,46,20,'rgba(0,0,0,0)',41,'#4b0082'),
 txt(2216,597,'30°',21,'#33cc33',42,null,null,0.9),txt(2255,621,'22',12,'#111',42,'center','bold',1),
 // scrollbars
 rect(0,1010,983,32,'#ececec',0),rect(0,1042,983,6,'#b4d0ee',0),poly([[14,1026],[9,1031],[14,1036]],'#555',1),poly([[970,1020],[975,1026],[970,1032]],'#555',1),
 rect(918,1010,27,30,grad('#f2f2f2','#c8c8c8'),1,'#999',2),seg(928,1020,928,1030,'#666',1.5,2),seg(931.5,1020,931.5,1030,'#666',1.5,2),seg(935,1020,935,1030,'#666',1.5,2),
 rect(993,1025,1341,23,'#eeeeee',0),poly([[2324,1029],[2329,1035],[2324,1041]],'#444',1),
 rect(2139,1026,100,21,grad('#f2f2f2','#c8c8c8'),1,'#999',2),seg(2186,1032,2186,1040,'#666',1.5,2),seg(2189.5,1032,2189.5,1040,'#666',1.5,2),seg(2193,1032,2193,1040,'#666',1.5,2)
];
const chart=echarts.init(document.getElementById('c'),null,{renderer:'canvas'});
chart.setOption({animation:false,backgroundColor:'#f5f5f5',grid:gridsDef,
 xAxis:[xAxis(0,L0,L1),xAxis(1,L0,L1),xAxis(2,L0,L1,lt,v=>leftTimeLabels[Math.round(v/2)],13.5,11),xAxis(3,R0,R1),xAxis(4,R0,R1),xAxis(5,R0,R1,rt,v=>rightTimeLabels[Math.round(v/4)],11.5,9)],
 yAxis:[yAxis(0,2219.42,2251.28,[2220,2222,2224,2226,2228,2230,2232,2234,2236,2238,2240,2242,2244,2246,2248,2250],f2,14),
  yAxis(1,-38,43.1,[-20,0,20],v=>''+v,14),yAxis(2,-0.12,2.39,[0,2],v=>''+v,14),
  yAxis(3,2228.9,2247.1,[2230,2231,2232,2233,2234,2235,2236,2237,2238,2239,2240,2241,2242,2243,2244,2245],f2,11.5),
  yAxis(4,-7.3,109.9,[0,20,40,60,80,100],v=>''+v,11.5),yAxis(5,-1.374,1.75,[-1,-0.5,0,0.5,1,1.5],v=>''+v,11.5)],
 series,graphic:{elements:chrome}});
</script></body></html>
